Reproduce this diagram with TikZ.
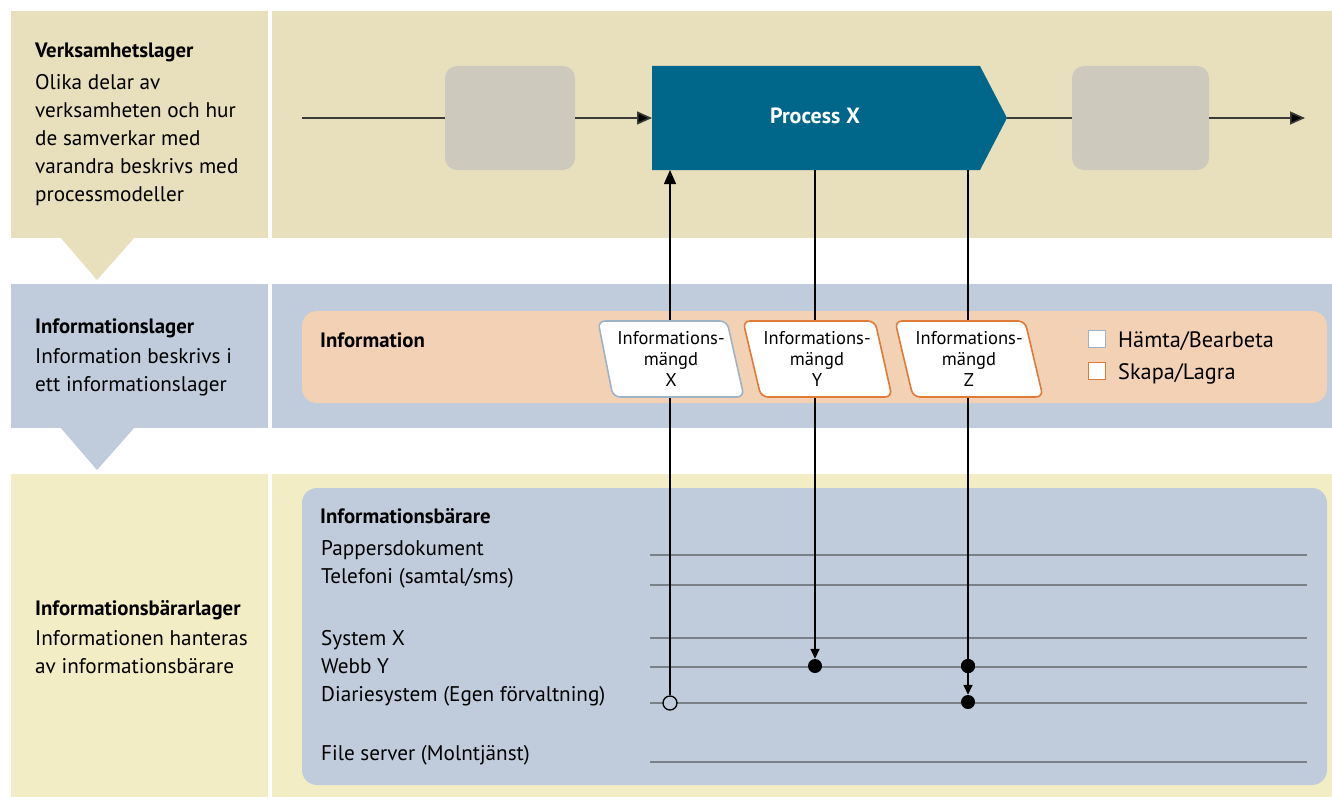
\documentclass[tikz,border=0pt]{standalone}
\usepackage{fontspec}
\setmainfont{PT Sans}
\usetikzlibrary{arrows.meta}
\definecolor{beige}{HTML}{E8DFBD}
\definecolor{bluebg}{HTML}{C0CCDC}
\definecolor{yellowbg}{HTML}{F3EDC5}
\definecolor{orangebg}{HTML}{F2D1B5}
\definecolor{greybox}{HTML}{CDC9BD}
\definecolor{teal}{HTML}{00668A}
\definecolor{orangeln}{HTML}{E07A37}
\definecolor{bluegreyln}{HTML}{9FB3C6}
\definecolor{sysline}{HTML}{7A8088}
\definecolor{flowln}{HTML}{3A3A36}
\tikzset{
  lbl/.style={anchor=base west,inner sep=0pt,align=left,font=\fontsize{21.2}{28}\selectfont},
  hdr/.style={anchor=base west,inner sep=0pt,font=\bfseries\fontsize{20.8}{28}\selectfont},
  gbox/.style={fill=greybox,rounded corners=12pt},
  flow/.style={draw=flowln,line width=1.6pt,-{Triangle[length=15pt,width=13pt,fill=black]}},
  flowplain/.style={draw=flowln,line width=1.6pt},
  vline/.style={draw=black,line width=1.5pt},
  vtip/.style={-{Triangle[length=10pt,width=9pt]}},
  bigtip/.style={-{Triangle[length=14pt,width=12pt]}},
  sysl/.style={draw=sysline,line width=1.3pt},
  para/.style={fill=white,line width=1.6pt,rounded corners=7pt},
  ptext/.style={align=center,inner sep=0pt,font=\fontsize{18.5}{21}\selectfont},
  dot/.style={circle,fill=black,inner sep=0pt,minimum size=14pt},
  odot/.style={circle,draw=black,fill=bluebg,line width=1.3pt,inner sep=0pt,minimum size=14pt},
  leg/.style={draw,fill=white,line width=1.6pt,minimum size=17pt,inner sep=0pt}
}
\begin{document}
\begin{tikzpicture}[x=1pt,y=-1pt]
\useasboundingbox (0,0) rectangle (1332,797);
\fill[white] (0,0) rectangle (1332,797);
% bands
\fill[beige] (11,11) rectangle (268,238);
\fill[beige] (272,11) rectangle (1332,238);
\fill[beige] (60,237) -- (135,237) -- (97,280) -- cycle;
\fill[bluebg] (11,284) rectangle (268,428);
\fill[bluebg] (272,284) rectangle (1332,428);
\fill[bluebg] (60,427) -- (135,427) -- (97,470) -- cycle;
\fill[yellowbg] (11,474) rectangle (268,797);
\fill[yellowbg] (272,474) rectangle (1332,797);
% left texts
\node[hdr] (h1) at (35,58) {Verksamhetslager};
\node[lbl,anchor=north west] (t1) at (35,74) {Olika delar av\\verksamheten och hur\\de samverkar med\\varandra beskrivs med\\processmodeller};
\node[hdr] (h2) at (35,333) {Informationslager};
\node[lbl,anchor=north west] (t2) at (35,348) {Information beskrivs i\\ett informationslager};
\node[hdr] (h3) at (35,615) {Informationsbärarlager};
\node[lbl,anchor=north west] (t3) at (35,630) {Informationen hanteras\\av informationsbärare};
% process row
\coordinate (start) at (302,118);
\node[gbox,minimum width=130pt,minimum height=104pt] (g1) at (510,118) {};
\fill[teal] (652,66) -- (980,66) -- (1007,118) -- (980,170) -- (652,170) -- cycle;
\node[text=white,font=\bfseries\fontsize{22}{24}\selectfont] (px) at (815,116) {Process X};
\node[gbox,minimum width=137pt,minimum height=104pt] (g2) at (1140.5,118) {};
\coordinate (endp) at (1305,118);
\draw[flowplain] (start) -- (g1.west);
\draw[flow] (g1.east) -- (652,118);
\draw[flowplain] (1007,118) -- (g2.west);
\draw[flow] (g2.east) -- (endp);
% information row
\fill[orangebg,rounded corners=15pt] (302,311) rectangle (1327,403);
\node[hdr] (info) at (320,347) {Information};
% carriers panel
\fill[bluebg,rounded corners=15pt] (302,488) rectangle (1327,785);
\node[hdr] (ib) at (320,523) {Informationsbärare};
\node[lbl] (s1) at (321,555) {Pappersdokument};
\node[lbl] (s2) at (321,583) {Telefoni (samtal/sms)};
\node[lbl] (s3) at (321,645) {System X};
\node[lbl] (s4) at (321,673) {Webb Y};
\node[lbl] (s5) at (321,701) {Diariesystem (Egen förvaltning)};
\node[lbl] (s6) at (321,760) {File server (Molntjänst)};
\foreach \y/\n in {555/a,585/b,638/c,667/d,703/e,762/f}{
  \coordinate (L\n) at (650,\y);
  \coordinate (R\n) at (1307,\y);
  \draw[sysl] (L\n) -- (R\n);
}
% vertical connectors
\coordinate (xb) at (670,170);
\coordinate (yb) at (815,170);
\coordinate (zb) at (968,170);
\node[odot] (ox) at (670,703) {};
\node[dot] (dy) at (815,666) {};
\node[dot] (dz1) at (968,666) {};
\node[dot] (dz2) at (968,702) {};
\draw[vline,bigtip] (ox.north) -- (xb);
\draw[vline,vtip] (yb) -- (dy.north);
\draw[vline] (zb) -- (dz1.center);
\draw[vline,vtip] (dz1.south) -- (dz2.north);
\node[dot] at (dz1) {};
% parallelograms
\draw[para,draw=bluegreyln] (598,321) -- (727,321) -- (744,397) -- (613,397) -- cycle;
\node[ptext] (mx) at (671,359) {Informations-\\mängd\\X};
\draw[para,draw=orangeln] (743,321) -- (875,321) -- (892,397) -- (761,397) -- cycle;
\node[ptext] (my) at (817,359) {Informations-\\mängd\\Y};
\draw[para,draw=orangeln] (895,321) -- (1025,321) -- (1043,397) -- (913,397) -- cycle;
\node[ptext] (mz) at (969,359) {Informations-\\mängd\\Z};
% legend
\node[leg,draw=bluegreyln] (lg1) at (1097,339) {};
\node[lbl,font=\fontsize{22.3}{28}\selectfont] (lt1) at (1118,347) {Hämta/Bearbeta};
\node[leg,draw=orangeln] (lg2) at (1097,371) {};
\node[lbl,font=\fontsize{22.3}{28}\selectfont] (lt2) at (1118,379) {Skapa/Lagra};
\end{tikzpicture}
\end{document}
